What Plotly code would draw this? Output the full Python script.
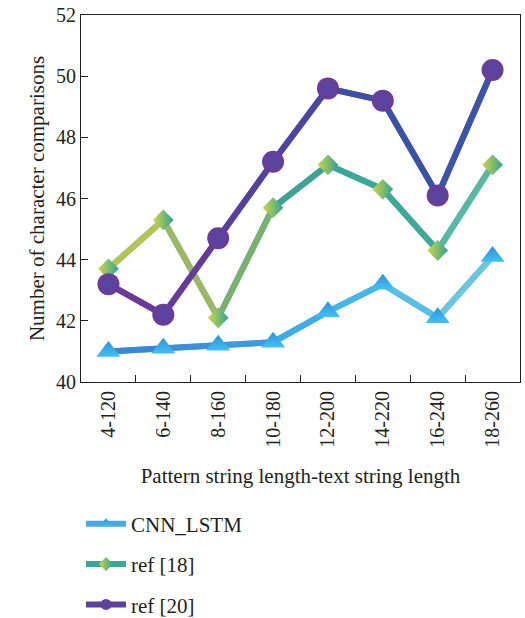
import plotly.graph_objects as go

categories = ["4-120", "6-140", "8-160", "10-180", "12-200", "14-220", "16-240", "18-260"]
cnn_lstm = [41.0, 41.1, 41.2, 41.3, 42.3, 43.2, 42.1, 44.1]
ref_18 = [43.7, 45.3, 42.1, 45.7, 47.1, 46.3, 44.3, 47.1]
ref_20 = [43.2, 42.2, 44.7, 47.2, 49.6, 49.2, 46.1, 50.2]

FONT = "Liberation Serif"
TEXT = "#231f20"

series = [
    dict(name="CNN_LSTM", y=cnn_lstm, symbol="triangle-up", size=21,
         seg=["#3b86d4", "#3c8fd8", "#3d9bdd", "#3caee6", "#44b6e8", "#58bee4", "#6cc6e0"],
         legend_line="#4aa8e2", mcolor="#2a92dc", gcolor="#44bff0", gtype="vertical"),
    dict(name="ref [18]", y=ref_18, symbol="diamond", size=16,
         seg=["#b5c452", "#9cb862", "#7ab070", "#3ea294", "#3aa898", "#3daa98", "#58b8a4"],
         legend_line="#3aa898", mcolor="#d2d64a", gcolor="#2fa294", gtype="horizontal"),
    dict(name="ref [20]", y=ref_20, symbol="circle", size=22,
         seg=["#6a3a96", "#633c98", "#55409c", "#4a46a0", "#3e4ea2", "#3a52a4", "#3a54a6"],
         legend_line="#5a40a0", mcolor="#6a3c98", gcolor="#5048a2", gtype="radial"),
]

fig = go.Figure()
for s in series:
    # legend entry (drawn underneath the coloured segments)
    fig.add_trace(go.Scatter(
        x=categories, y=s["y"], mode="lines+markers", name=s["name"],
        legendgroup=s["name"],
        line=dict(color=s["legend_line"], width=6),
        marker=dict(symbol=s["symbol"], size=11, color=s["mcolor"],
                    gradient=dict(type=s["gtype"], color=s["gcolor"])),
    ))
    # shaded line, one colour per segment
    for k in range(len(categories) - 1):
        fig.add_trace(go.Scatter(
            x=categories[k:k + 2], y=s["y"][k:k + 2], mode="lines",
            line=dict(color=s["seg"][k], width=6),
            showlegend=False, hoverinfo="skip", legendgroup=s["name"],
        ))
    fig.add_trace(go.Scatter(
        x=categories, y=s["y"], mode="markers", showlegend=False,
        legendgroup=s["name"],
        marker=dict(symbol=s["symbol"], size=s["size"], color=s["mcolor"],
                    line=dict(width=0),
                    gradient=dict(type=s["gtype"], color=s["gcolor"])),
    ))

fig.update_layout(
    width=525, height=618,
    margin=dict(l=81, r=5, t=15, b=236),
    paper_bgcolor="white", plot_bgcolor="white",
    font=dict(family=FONT, size=20, color=TEXT),
    legend=dict(x=0, xanchor="left", yref="container", y=0.185, yanchor="top",
                traceorder="grouped", tracegroupgap=10, itemwidth=40,
                font=dict(family=FONT, size=21, color=TEXT)),
    xaxis=dict(
        type="category", range=[-0.5, 7.5], tickson="boundaries",
        ticks="inside", ticklen=7, tickcolor=TEXT, tickangle=-90,
        showline=True, linecolor=TEXT, linewidth=1, mirror=True,
        showgrid=False, zeroline=False, automargin=False,
        tickfont=dict(family=FONT, size=20, color=TEXT),
        title=dict(text="Pattern string length-text string length",
                   font=dict(family=FONT, size=21, color=TEXT), standoff=21),
    ),
    yaxis=dict(
        range=[40, 52], dtick=2, ticks="inside", ticklen=7, tickcolor=TEXT,
        showline=True, linecolor=TEXT, linewidth=1, mirror=True,
        showgrid=False, zeroline=False, automargin=False,
        tickfont=dict(family=FONT, size=20, color=TEXT),
        title=dict(text="Number of character comparisons",
                   font=dict(family=FONT, size=21, color=TEXT), standoff=5),
    ),
)

fig.write_html("out.html")
